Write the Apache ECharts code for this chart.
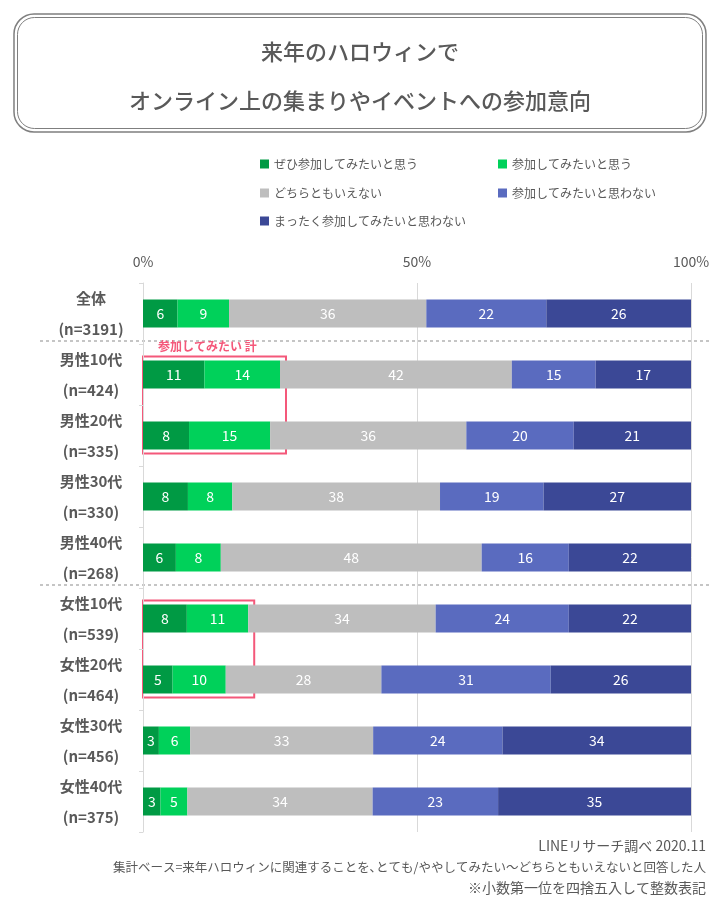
<!DOCTYPE html>
<html><head><meta charset="utf-8">
<script src="https://cdn.jsdelivr.net/npm/echarts@6/dist/echarts.min.js"></script>
<style>html,body{margin:0;padding:0;background:#fff}#c{width:720px;height:901px}</style>
</head><body><div id="c"></div>
<script>
const categories = ['全体\n(n=3191)','男性10代\n(n=424)','男性20代\n(n=335)','男性30代\n(n=330)','男性40代\n(n=268)','女性10代\n(n=539)','女性20代\n(n=464)','女性30代\n(n=456)','女性40代\n(n=375)'];
const seriesNames = ['ぜひ参加してみたいと思う','参加してみたいと思う','どちらともいえない','参加してみたいと思わない','まったく参加してみたいと思わない'];
const definitelyYes = [6.3, 11.2, 8.4, 8.2, 6.0, 8.0, 5.4, 2.9, 3.2];
const yes =           [9.4, 13.8, 14.8, 8.1, 8.2, 11.2, 9.7, 5.7, 4.9];
const neutral =       [36.0, 42.3, 35.8, 37.9, 47.6, 34.2, 28.4, 33.4, 33.8];
const no =            [21.9, 15.3, 19.6, 18.9, 15.9, 24.3, 30.9, 23.6, 22.9];
const definitelyNo =  [26.4, 17.4, 21.4, 26.9, 22.3, 22.3, 25.7, 34.4, 35.2];
const xTicks = [0, 50, 100];
const colors = ['#009a44','#00d15a','#bebebe','#5a6bbf','#3b4896'];
const FONT = '"Noto Sans CJK JP","Noto Sans",sans-serif';
const TXT = '#595959';

const values = [definitelyYes, yes, neutral, no, definitelyNo];
const chart = echarts.init(document.getElementById('c'), null, {renderer:'canvas'});

const legendPos = [[255,153],[493,153],[255,182],[493,182],[255,210]];
const legends = seriesNames.map((n,i)=>({
  data:[n], left:legendPos[i][0], top:legendPos[i][1], icon:'rect', itemWidth:9, itemHeight:9, itemGap:6,
  textStyle:{color:TXT, fontSize:12, fontFamily:FONT}, selectedMode:false
}));

const option = {
  animation:false,
  textStyle:{fontFamily:FONT},
  color: colors,
  legend: legends,
  grid:{left:143, right:29, top:283, bottom:69},
  xAxis:{type:'value', position:'top', min:xTicks[0], max:xTicks[xTicks.length-1], interval:50,
    axisLine:{show:false}, axisTick:{show:false},
    axisLabel:{formatter:'{value}%', color:TXT, fontSize:14, margin:14, fontFamily:FONT},
    splitLine:{lineStyle:{color:'#d9d9d9'}}},
  yAxis:{type:'category', data:categories, inverse:true,
    axisLine:{show:true, lineStyle:{color:'#d9d9d9'}},
    axisTick:{show:true, length:4, lineStyle:{color:'#d9d9d9'}},
    axisLabel:{interval:0, hideOverlap:false, color:TXT, fontSize:15, fontWeight:'bold', lineHeight:31, align:'center', margin:52, fontFamily:FONT}},
  series: seriesNames.map((n,i)=>({
    name:n, type:'bar', stack:'total', barWidth:28, data:values[i],
    itemStyle:{color:colors[i]},
    label:{show:true, position:'inside', color:'#fff', fontSize:14, fontFamily:FONT,
      formatter:p=>Math.round(p.value)}
  }))
};
chart.setOption(option);

function px(x, yi){ return chart.convertToPixel({gridIndex:0}, [x, yi]); }
const g = [];
g.push({type:'rect', shape:{x:14,y:14,width:692,height:118,r:20}, style:{fill:'none', stroke:'#7f7f7f', lineWidth:1.5}});
g.push({type:'rect', shape:{x:17.5,y:17.5,width:685,height:111,r:17}, style:{fill:'none', stroke:'#7f7f7f', lineWidth:1}});
g.push({type:'text', x:360, y:52, style:{text:'来年のハロウィンで', fill:TXT, font:'500 22px '+FONT, textAlign:'center', textVerticalAlign:'middle'}});
g.push({type:'text', x:360, y:101, style:{text:'オンライン上の集まりやイベントへの参加意向', fill:TXT, font:'500 22px '+FONT, textAlign:'center', textVerticalAlign:'middle'}});
[0.5, 4.5].forEach(v=>{
  const y = (px(0,Math.floor(v))[1] + px(0,Math.ceil(v))[1])/2 - 3;
  g.push({type:'line', shape:{x1:40,y1:y,x2:712,y2:y}, style:{stroke:'#8c8c8c', lineWidth:1.2, lineDash:[3,3]}});
});
[[1,2],[5,6]].forEach((pair,k)=>{
  const maxSum = Math.max(...pair.map(i=>definitelyYes[i]+yes[i]));
  const xr = px(maxSum, pair[0])[0] + 6;
  const x0 = px(0, pair[0])[0];
  const yt = px(0, pair[0])[1] - 18;
  const yb = px(0, pair[1])[1] + 18;
  g.push({type:'rect', shape:{x:x0, y:yt, width:xr-x0, height:yb-yt}, style:{fill:'none', stroke:'#f4587a', lineWidth:2}});
  if(k===0) g.push({type:'text', x:x0+15, y:yt-10, style:{text:'参加してみたい 計', fill:'#f4587a', font:'bold 12px '+FONT, textVerticalAlign:'middle'}});
});
g.push({type:'text', x:706, y:846, style:{text:'LINEリサーチ調べ 2020.11', fill:TXT, font:'14px '+FONT, textAlign:'right', textVerticalAlign:'middle'}});
g.push({type:'text', x:706, y:867, style:{text:'集計ベース=来年ハロウィンに関連することを､とても/ややしてみたい～どちらともいえないと回答した人', fill:TXT, font:'12.5px '+FONT, textAlign:'right', textVerticalAlign:'middle'}});
g.push({type:'text', x:706, y:888, style:{text:'※小数第一位を四捨五入して整数表記', fill:TXT, font:'14px '+FONT, textAlign:'right', textVerticalAlign:'middle'}});
chart.setOption({graphic:g});
</script></body></html>
